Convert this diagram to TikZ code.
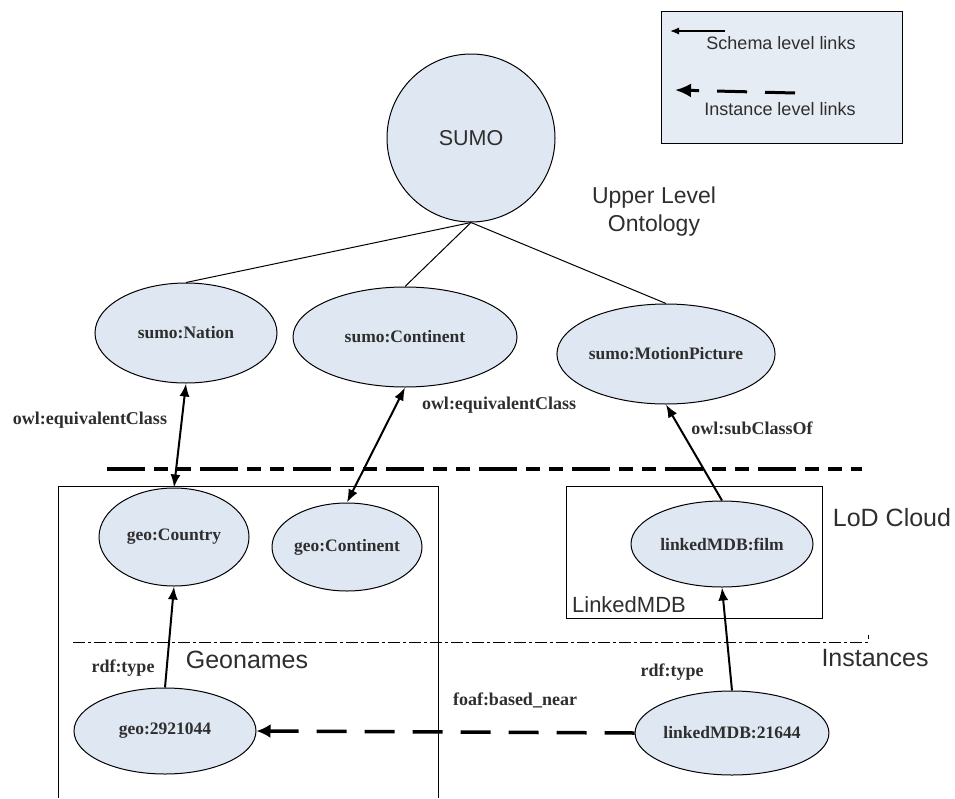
\documentclass[tikz,border=0pt]{standalone}
\usepackage{fontspec}
\setmainfont{Liberation Serif}
\setsansfont{Liberation Sans}
\usepackage{tikz}
\usetikzlibrary{shapes.geometric,arrows.meta}

\definecolor{conceptfill}{HTML}{DFE8F2}
\definecolor{legendfill}{HTML}{E6ECF4}
\definecolor{inktext}{HTML}{2E2E2E}

\tikzset{
  concept/.style={ellipse,draw,line width=1pt,fill=conceptfill,inner sep=0pt,
    text=inktext,font=\fontsize{17.5}{20}\selectfont\bfseries},
  rel/.style={text=inktext,font=\fontsize{18}{20}\selectfont\bfseries},
  note/.style={text=inktext,font=\sffamily\fontsize{#1}{#1}\selectfont},
  note/.default=25,
  schemalink/.style={line width=2pt,-{Latex[length=13pt,width=10pt]}},
  bothlink/.style={line width=2pt,{Latex[length=13pt,width=10pt]}-{Latex[length=13pt,width=10pt]}},
  instancelink/.style={line width=3.5pt,dash pattern=on 30pt off 18pt,-{Latex[length=14pt,width=14pt]}},
}

\begin{document}
\begin{tikzpicture}[x=1pt,y=-1pt]
\useasboundingbox (0,0) rectangle (955,798);

\draw[fill=legendfill,line width=1pt] (661,11) rectangle (902,143);
\coordinate (schemaA) at (725,31);
\coordinate (schemaB) at (670,31);
\coordinate (instA) at (795,93);
\coordinate (instB) at (675,90);
\draw[line width=1.2pt,-{Latex[length=9pt,width=7pt]}] (schemaA) -- (schemaB);
\draw[line width=3pt,dash pattern=on 30pt off 18pt,-{Latex[length=16pt,width=14pt]}] (instA) -- (instB);
\node[note=18] (schemaText) at (781,43) {Schema level links};
\node[note=18] (instText) at (780,109) {Instance level links};

\node[circle,draw,line width=1pt,fill=conceptfill,minimum size=168pt,inner sep=0pt,
  text=inktext,font=\sffamily\fontsize{21.5}{21.5}\selectfont] (sumo) at (471,138) {SUMO};
\node[note=23,align=center] (upper) at (654,212) {Upper Level\\[5pt]Ontology};

\node[concept,minimum width=182pt,minimum height=100pt] (nation) at (186,333) {sumo:Nation};
\node[concept,minimum width=224pt,minimum height=100pt] (scontinent) at (405,337) {sumo:Continent};
\node[concept,minimum width=206pt,minimum height=100pt] (motion) at (666,354) {sumo:MotionPicture};

\draw[line width=1pt] (sumo.south) -- (nation.north);
\draw[line width=1pt] (sumo.south) -- (scontinent.north);
\draw[line width=1pt] (sumo.south) -- (motion.north);

\draw[line width=4pt,dash pattern=on 38pt off 9pt on 14pt off 9pt on 14pt off 9pt] (107,469) -- (862,469);
\draw[line width=0.8pt,dash pattern=on 12pt off 3pt on 3pt off 3pt] (73,642) -- (868,642) -- (868,635);

\draw[line width=1pt] (58,798) |- (438,486) -- (438,798);
\draw[line width=1pt] (566,486) rectangle (822,618);

\node[concept,minimum width=150pt,minimum height=98pt] (country) at (174,537) {geo:Country};
\node[concept,minimum width=150pt,minimum height=88pt] (gcontinent) at (347,547) {geo:Continent};
\node[concept,minimum width=182pt,minimum height=86pt] (gid) at (165,731) {geo:2921044};
\node[concept,minimum width=182pt,minimum height=86pt] (film) at (722,544) {linkedMDB:film};
\node[concept,minimum width=180pt,minimum height=84pt] (mdbid) at (732,733) {linkedMDB:21644};

\node[note] (geonames) at (247,660) {Geonames};
\node[note=22] (linkedmdb) at (629,605) {LinkedMDB};
\node[note] (lod) at (892,518) {LoD Cloud};
\node[note] (instances) at (875,658) {Instances};

\draw[bothlink] (nation.south) -- (country.north);
\draw[bothlink] (scontinent.south) -- (gcontinent.north);
\draw[schemalink] (film.north) -- (motion.south);
\draw[schemalink] (gid.north) -- (country.south);
\draw[schemalink] (mdbid.north) -- (film.south);
\draw[instancelink] (mdbid.west) -- (gid.east);

\node[rel] (eqLeft) at (90,420) {owl:equivalentClass};
\node[rel] (eqRight) at (499,405) {owl:equivalentClass};
\node[rel] (subclass) at (752,428) {owl:subClassOf};
\node[rel] (typeLeft) at (123,668) {rdf:type};
\node[rel] (typeRight) at (672,672) {rdf:type};
\node[rel] (near) at (515,700) {foaf:based\_near};
\end{tikzpicture}
\end{document}
